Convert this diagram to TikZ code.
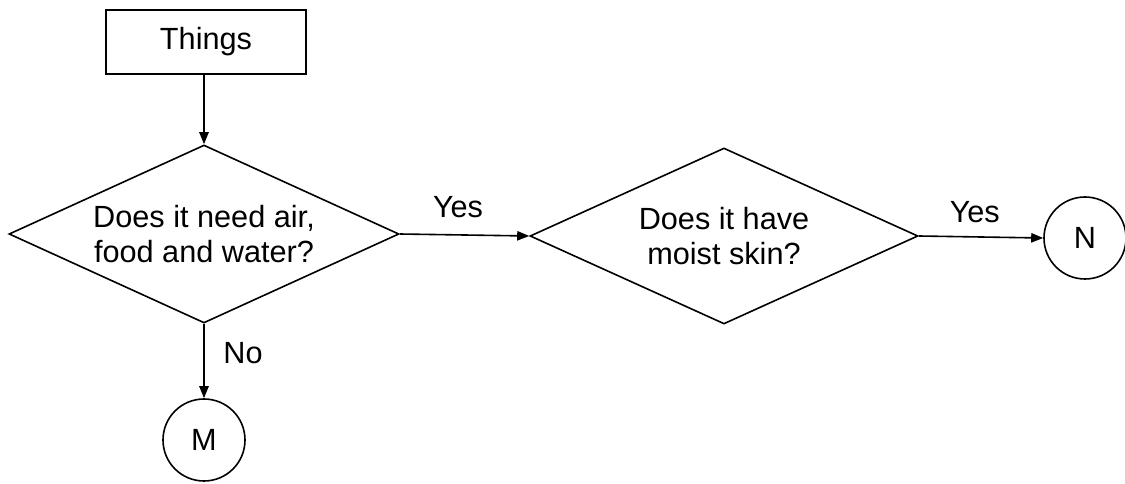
\documentclass[tikz,border=0pt]{standalone}
\usepackage{fontspec}
\setmainfont{Liberation Sans}
\usetikzlibrary{shapes.geometric,arrows.meta}

\begin{document}
\begin{tikzpicture}[x=0.75pt,y=0.75pt,yscale=-1,xscale=1,
    every node/.style={font=\fontsize{23}{26}\selectfont},
    startbox/.style={draw,line width=1.2pt,minimum width=150pt,minimum height=48pt,inner sep=0pt},
    question/.style={diamond,draw,line width=1.2pt,aspect=2.2,inner sep=0pt,align=center},
    endpoint/.style={circle,draw,line width=1.2pt,minimum size=61.5pt,inner sep=0pt},
    flow/.style={line width=1.2pt,-{Triangle[length=9pt,width=7pt]}}]
    \useasboundingbox (0,0) rectangle (1125,484);
    % Shapes
    \node [startbox] (things) at (206,42) {Things};
    \node [question,minimum width=292.5pt,minimum height=133.5pt] (air) at (204,234) {Does it need air,\\food and water?};
    \node [question,minimum width=291pt,minimum height=132pt] (skin) at (724,236) {Does it have\\moist skin?};
    \node [endpoint] (n) at (1085,238) {N};
    \node [endpoint] (m) at (204,440) {M};
    % Connectors
    \draw [flow] (things.south -| air.north) -- (air.north);
    \draw [flow] (air.east) -- node [above=12pt,pos=0.45,inner sep=0pt] {Yes} (skin.west);
    \draw [flow] (skin.east) -- node [above=10pt,pos=0.45,inner sep=0pt] {Yes} (n.west);
    \draw [flow] (air.south) -- node [right=14pt,pos=0.4,inner sep=0pt] {No} (m.north);
\end{tikzpicture}
\end{document}
